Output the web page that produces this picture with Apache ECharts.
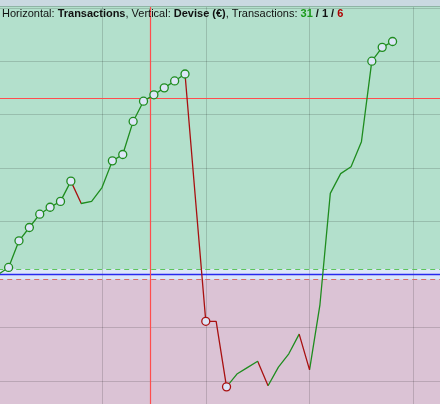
<!DOCTYPE html>
<html><head><meta charset="utf-8">
<script src="https://cdn.jsdelivr.net/npm/echarts@6/dist/echarts.min.js"></script>
<style>html,body{margin:0;padding:0;background:#b3e0cc}#c{width:440px;height:404px}</style>
</head><body><div id="c"></div>
<script>
// ---- data ----
const transactions = [0,1,2,3,4,5,6,7,8,9,10,11,12,13,14,15,16,17,18,19,20,21,22,23,24,25,26,27,28,29,30,31,32,33,34,35,36,37,38];
const equity = [1000,1013,1063,1088,1113,1126,1137,1175,1133,1137,1163,1213,1225,1287,1325,1337,1350,1363,1376,1143,912,912,789,813,825,837,791,826,851,888,821,943,1152,1189,1202,1249,1400,1426,1437];
const startBalance = 1000;
const bandUpper = 1010;
const bandLower = 990;
const cursorX = 14.65;
const cursorY = 1330;
const xMin = 0, xMax = 50, xStep = 10;
const yMin = 700, yMax = 1600, yStep = 100;

const GREEN = '#1e8c1e', RED = '#a81010';

// wins / neutral / losses
let wins = 0, neutral = 0, losses = 0;
const lossPieces = [];
for (let i = 0; i < equity.length - 1; i++) {
  const d = equity[i + 1] - equity[i];
  if (d > 0) wins++; else if (d === 0) neutral++; else losses++;
  if (d <= 0) lossPieces.push({ gt: transactions[i], lte: transactions[i + 1], color: RED });
}
// markers at new highs / new lows
const markers = [];
let hi = equity[0], lo = equity[0];
for (let i = 1; i < equity.length; i++) {
  if (equity[i] > hi) { hi = equity[i]; markers.push({ value: [transactions[i], equity[i]], itemStyle: { borderColor: GREEN } }); }
  else if (equity[i] < lo) { lo = equity[i]; markers.push({ value: [transactions[i], equity[i]], itemStyle: { borderColor: RED } }); }
}

const chart = echarts.init(document.getElementById('c'), null, { renderer: 'canvas' });
const F = 'Liberation Sans, Arial, sans-serif';
chart.setOption({
  animation: false,
  grid: { left: -1.77, right: -77.1, top: -45.4, bottom: -30.3, containLabel: false, outerBoundsMode: 'none' },
  title: {
    left: 2, top: 8, padding: 0,
    text: 'Horizontal: {b|Transactions}, Vertical: {b|Devise (€)}, Transactions: {g|' + wins + '} {b|/} {b|' + neutral + '} {b|/} {r|' + losses + '}',
    textStyle: {
      fontSize: 11, fontFamily: F, fontWeight: 'normal', color: '#111',
      rich: {
        b: { fontSize: 11, fontFamily: F, fontWeight: 'bold', color: '#111' },
        g: { fontSize: 11, fontFamily: F, fontWeight: 'bold', color: '#1a9a1a' },
        r: { fontSize: 11, fontFamily: F, fontWeight: 'bold', color: '#b00000' }
      }
    }
  },
  xAxis: {
    type: 'value', min: xMin, max: xMax, interval: xStep, z: 1,
    axisLine: { show: false }, axisTick: { show: false }, axisLabel: { show: false },
    splitLine: { show: true, lineStyle: { color: 'rgba(0,0,0,0.15)', width: 1 } }
  },
  yAxis: {
    type: 'value', min: yMin, max: yMax, interval: yStep, z: 1,
    axisLine: { show: false }, axisTick: { show: false }, axisLabel: { show: false },
    splitLine: { show: true, lineStyle: { color: 'rgba(0,0,0,0.15)', width: 1 } }
  },
  visualMap: {
    type: 'piecewise', show: false, dimension: 0, seriesIndex: 2,
    pieces: lossPieces, outOfRange: { color: GREEN }
  },
  series: [
    {
      type: 'line', data: [], z: 0, silent: true,
      markArea: {
        silent: true, z: 0,
        data: [
          [{ yAxis: bandUpper, itemStyle: { color: '#b3e0cc', opacity: 1 } }, { yAxis: yMax }],
          [{ yAxis: bandLower, itemStyle: { color: '#dde6f8', opacity: 1 } }, { yAxis: bandUpper }],
          [{ yAxis: yMin, itemStyle: { color: '#dbc3d5', opacity: 1 } }, { yAxis: bandLower }]
        ]
      }
    },
    {
      type: 'line', data: [], z: 2, silent: true,
      markLine: {
        silent: true, z: 2, symbol: 'none', label: { show: false },
        data: [
          { yAxis: bandUpper, lineStyle: { color: '#5cc45c', type: [5, 4], width: 1, opacity: 1 } },
          { yAxis: bandLower, lineStyle: { color: '#d86a6a', type: [5, 4], width: 1, opacity: 1 } },
          { yAxis: startBalance, lineStyle: { color: '#2828ee', type: 'solid', width: 1.3, opacity: 1 } },
          { xAxis: cursorX, lineStyle: { color: '#ff4d4d', type: 'solid', width: 1.2, opacity: 1 } },
          { yAxis: cursorY, lineStyle: { color: '#ff4d4d', type: 'solid', width: 1.2, opacity: 1 } }
        ]
      }
    },
    {
      type: 'line', z: 3, showSymbol: false, silent: true,
      data: transactions.map((t, i) => [t, equity[i]]),
      lineStyle: { width: 1.3 }
    },
    {
      type: 'scatter', z: 4, silent: true, symbol: 'circle', symbolSize: 8,
      itemStyle: { color: '#dde6f7', borderWidth: 1.3, opacity: 1 },
      data: markers
    }
  ],
  graphic: [
    { type: 'rect', z: 100, shape: { x: 0, y: 0, width: 440, height: 6 }, style: { fill: '#cad9e1' } },
    { type: 'line', z: 100, shape: { x1: 0, y1: 6.5, x2: 440, y2: 6.5 }, style: { stroke: '#8fb4a5', lineWidth: 1 } }
  ]
});
</script></body></html>
